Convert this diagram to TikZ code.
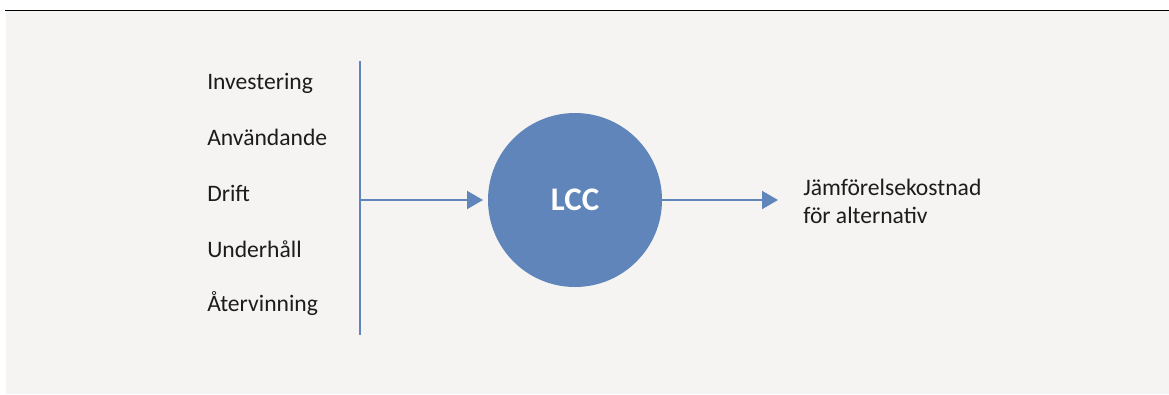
\documentclass[tikz,border=0pt]{standalone}
\usepackage{fontspec}
\setmainfont{Carlito}
\usepackage{tikz, xcolor}
\usetikzlibrary{arrows.meta}
\definecolor{lccblue}{HTML}{5F85BA}
\definecolor{paper}{HTML}{F5F4F2}
\definecolor{ink}{HTML}{1C1C1C}
\tikzset{item/.style = {anchor=base west, inner sep=0pt, text=ink, font=\fontsize{17.7}{20.3}\selectfont}}
\tikzset{flow/.style = {draw=lccblue, line width=1.5pt, -{Triangle[length=12pt, width=13.5pt]}}}

\begin{document}
\begin{tikzpicture}[x=0.75pt, y=-0.75pt]
    \useasboundingbox (0,0) rectangle (1169,394);
    \fill[paper] (6,11) rectangle (1169,394);
    \draw[line width=1.2pt, black] (5,10.5) -- (1169,10.5);
    \node[item] (inv) at (207,89) {Investering};
    \node[item] (anv) at (207,145) {Användande};
    \node[item] (dri) at (207,201) {Drift};
    \node[item] (und) at (207,257) {Underhåll};
    \node[item] (ate) at (207,311) {Återvinning};
    \coordinate (top) at (360,61);
    \coordinate (bot) at (360,335);
    \coordinate (mid) at (360,200);
    \node[circle, fill=lccblue, minimum size=130.5pt, inner sep=0pt, outer sep=0pt,
          text=white, font=\fontsize{24.7}{28}\selectfont\bfseries] (lcc) at (575,200) {LCC};
    \coordinate (out) at (778,200);
    \node[item, align=left] (res) at (803,223) {Jämförelsekostnad\\för alternativ};
    \draw[lccblue, line width=1.6pt] (top) -- (bot);
    \draw[flow, shorten >=3.75pt] (mid) -- (lcc);
    \draw[flow] (lcc) -- (out);
\end{tikzpicture}
\end{document}
